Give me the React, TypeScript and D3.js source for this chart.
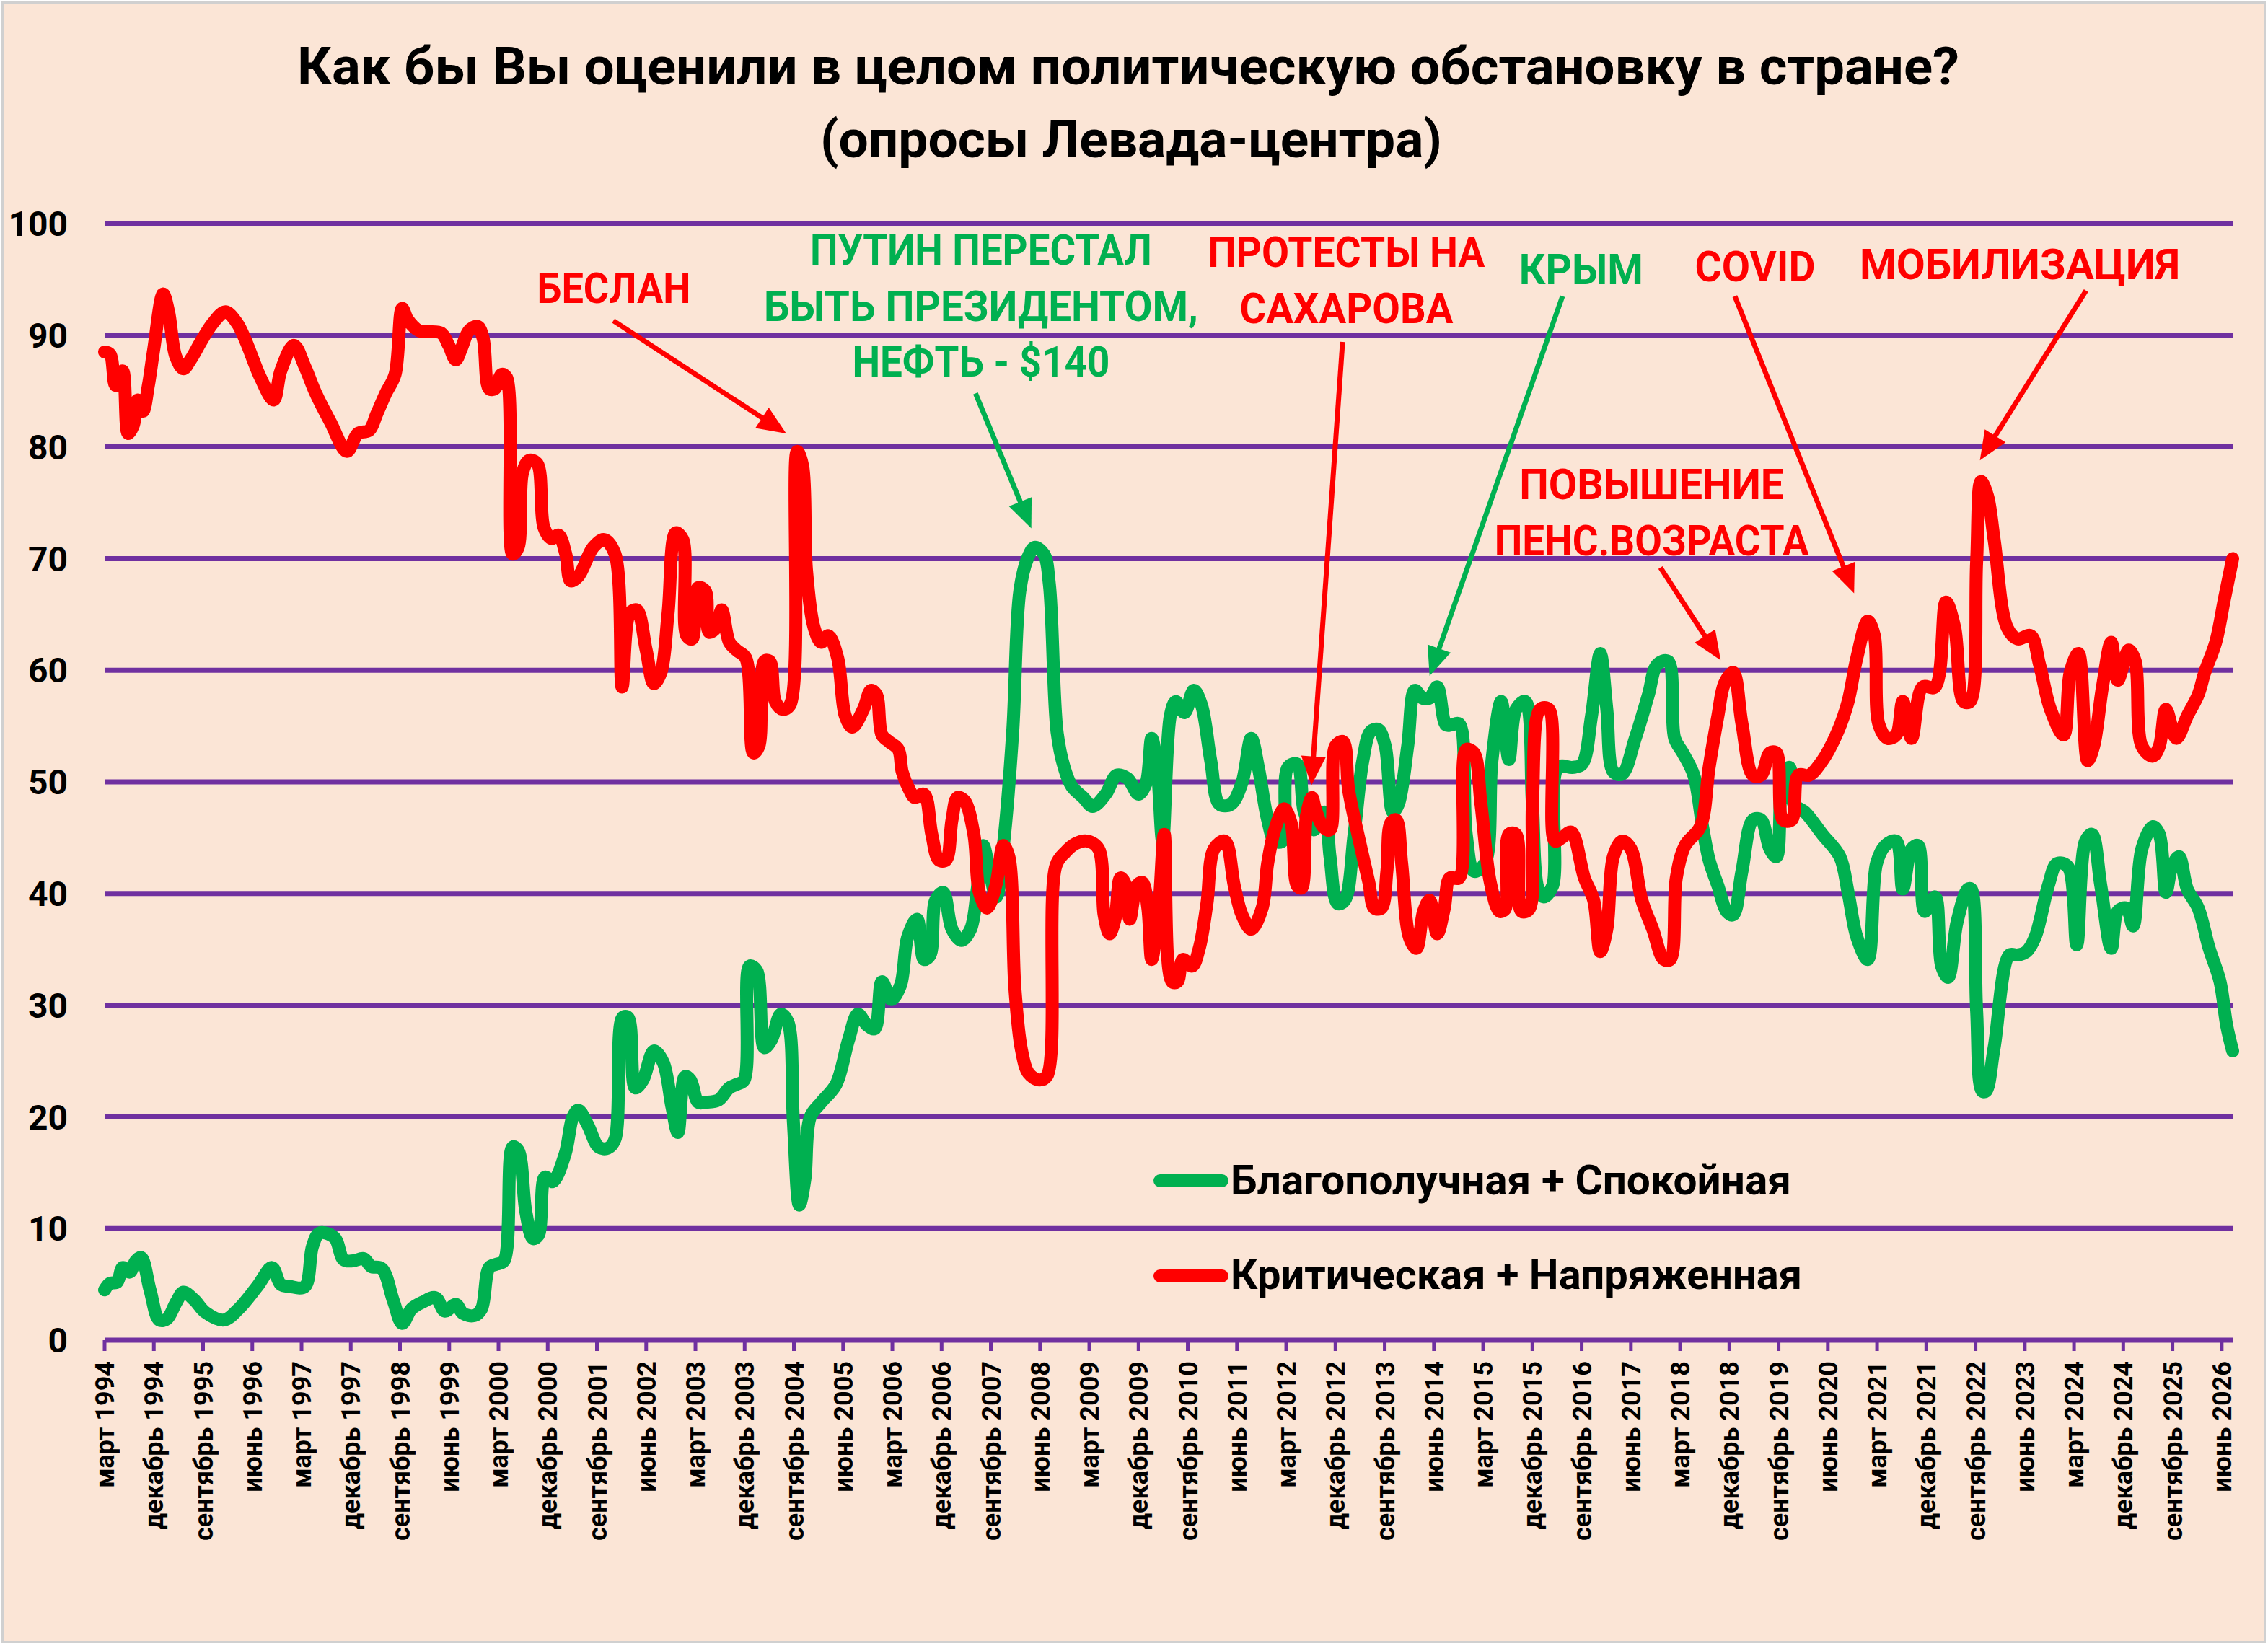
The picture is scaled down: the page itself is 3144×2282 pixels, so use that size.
import React from 'react';
import * as d3 from 'd3';

const W = 3144;
const H = 2282;

const titleLines = ['Как бы Вы оценили в целом политическую обстановку в стране?', '(опросы Левада-центра)'];

const tickLabels = [
  'март 1994', 'декабрь 1994', 'сентябрь 1995', 'июнь 1996', 'март 1997', 'декабрь 1997', 'сентябрь 1998', 'июнь 1999',
  'март 2000', 'декабрь 2000', 'сентябрь 2001', 'июнь 2002', 'март 2003', 'декабрь 2003', 'сентябрь 2004', 'июнь 2005',
  'март 2006', 'декабрь 2006', 'сентябрь 2007', 'июнь 2008', 'март 2009', 'декабрь 2009', 'сентябрь 2010', 'июнь 2011',
  'март 2012', 'декабрь 2012', 'сентябрь 2013', 'июнь 2014', 'март 2015', 'декабрь 2015', 'сентябрь 2016', 'июнь 2017',
  'март 2018', 'декабрь 2018', 'сентябрь 2019', 'июнь 2020', 'март 2021', 'декабрь 2021', 'сентябрь 2022', 'июнь 2023',
  'март 2024', 'декабрь 2024', 'сентябрь 2025', 'июнь 2026',
];
const tickStep = 9; // months between labels
const yTicks = [0, 10, 20, 30, 40, 50, 60, 70, 80, 90, 100];

const seriesNames = ['Благополучная + Спокойная', 'Критическая + Напряженная'];

// months since March 1994
const greenMonths = [
  0, 1, 2.3, 3.3, 4.6, 5.7, 6.7, 8.3, 10, 11.4, 13.1, 14.4, 16.4, 18.4, 21.8, 24.5, 27.9, 30.6, 32.2, 33.9,
  36.6, 38, 39.3, 42, 43.7, 45.4, 47.4, 48.7, 50.7, 52.8, 54.4, 56.1, 58.1, 60.5, 62.2, 64.2, 65.5, 67.6, 68.9, 70.3,
  71.6, 73, 74.6, 75.6, 77, 78.3, 79.3, 80.5, 81.9, 84.2, 85.6, 86.6, 88.3, 90.3, 92, 93.3, 94.7, 95.7, 97, 98.4,
  100.4, 102.1, 103.7, 104.8, 106.1, 107.1, 108.5, 109.8, 112.2, 114.2, 115.5, 116.9, 117.9, 119.2, 120.6, 121.9, 123.6, 124.9, 125.9, 127,
  128, 129, 131, 133.7, 136, 137.7, 139.4, 140.8, 142.1, 143.8, 145.5, 146.8, 148.5, 149.8, 150.9, 151.9, 153.3, 154.9, 156.6, 158.3,
  159.6, 160.6, 161.6, 163, 164.3, 166, 167.3, 168.7, 170, 171.7, 172.7, 174.1, 175.4, 176.8, 178.9, 180.6, 183, 185, 187, 189,
  190.4, 191.4, 192.4, 193.4, 194.8, 195.8, 197.4, 199.1, 200.5, 202.2, 203.8, 205.9, 207.9, 209.6, 210.9, 212.6, 213.9, 215.3, 216.3, 218,
  219.3, 221, 223, 224, 225.4, 226.7, 228.4, 230, 231.4, 232.8, 234.1, 235.5, 236.5, 238.2, 239.5, 240.9, 242.2, 243.6, 245.2, 246.2,
  247.6, 248.9, 250.3, 252.3, 253.6, 255.3, 256.7, 258, 259.7, 261, 262, 263.1, 264.7, 265.7, 268.4, 270.1, 271.8, 273.4, 274.6, 275.8,
  277.4, 279.8, 282.2, 283.8, 285.8, 287, 288.5, 290.5, 292.1, 293.3, 294.9, 296.5, 297.7, 299.3, 301.3, 302.8, 304.4, 305.6, 306.8, 308,
  308.8, 310.8, 314, 317.2, 318.7, 320.3, 322.3, 323.9, 325.5, 327.5, 328.7, 330.3, 331.5, 332.7, 334.6, 335.8, 337, 338.6, 340.6, 341.2,
  342.2, 343.2, 343.9, 345.4, 348.2, 349.7, 351.3, 352.9, 355.3, 356.9, 358.9, 360.5, 362.1, 363.3, 364.9, 366.8, 368, 369.6, 370.8, 372.4,
  374.4, 375.6, 376.8, 377.9, 379.2, 380.7, 382.7, 384.7, 386.7, 387.9, 389,
];
const greenValues = [
  4.5, 5.1, 5.2, 6.5, 6.1, 7.1, 7.4, 4.5, 1.8, 1.9, 3.4, 4.3, 3.6, 2.5, 1.8, 2.8, 4.8, 6.5, 5.0, 4.8,
  4.8, 8.4, 9.6, 9.2, 7.2, 7.1, 7.3, 6.6, 6.4, 3.5, 1.5, 2.8, 3.4, 3.8, 2.6, 3.2, 2.4, 2.2, 2.8, 6.5,
  6.8, 7.1, 17.3, 17, 11.5, 9.1, 9.4, 14.6, 14.2, 16.7, 20, 20.6, 19.3, 17.3, 17.2, 18, 28.9, 28.9, 22.6, 23.3,
  25.9, 24.9, 20.9, 18.6, 23.6, 23.3, 21.3, 21.3, 21.5, 22.6, 22.9, 23.3, 33.5, 33.1, 26.2, 26.9, 29.2, 28.5, 19.6, 12.1,
  14.4, 20, 21.3, 22.9, 26.9, 29.2, 28.2, 27.9, 32.1, 30.5, 31.8, 36.1, 37.7, 34.1, 34.5, 39.4, 40.1, 36.8, 35.8, 36.8,
  40.7, 44.3, 42.4, 39.7, 44.3, 54.5, 67.1, 70, 71, 70.4, 67.7, 54.5, 51.3, 49.6, 48.6, 47.8, 48.9, 50.6, 50.3, 48.9,
  49.9, 53.9, 51.3, 44.7, 55.9, 57.2, 56.2, 58.2, 56.9, 51.9, 48, 48, 49.9, 53.9, 51.3, 46.6, 44.7, 44.7, 51.3, 51.6,
  47.3, 45.7, 47.3, 43.3, 39.1, 39.4, 45.3, 51.9, 54.5, 54.7, 53.2, 47.3, 48, 53.2, 58.2, 57.5, 57.5, 58.5, 55.1, 55.1,
  55.2, 45.3, 42, 42.7, 51.9, 57.2, 52, 56.5, 57.2, 48, 40.5, 39.7, 40.7, 51.3, 51.3, 51.6, 55.9, 61.5, 56.5, 50.9,
  50.7, 53.9, 57.8, 60.5, 60.8, 53.9, 52.6, 50.6, 46, 43, 40.7, 38.4, 38.1, 42, 46.6, 46.6, 44, 43.3, 50.6, 51.3,
  48, 47.3, 45.3, 43.3, 40.1, 36.1, 34.1, 42.7, 44.3, 44.7, 40.4, 44, 44.3, 38.4, 39.7, 33.5, 32.5, 37.4, 40.4, 40.4,
  29.5, 22.3, 22.3, 26.2, 34.5, 34.5, 34.8, 36.1, 40.7, 42.7, 42.4, 35.4, 44.7, 45.3, 40.7, 35.1, 38.4, 38.7, 37.1, 44,
  46, 45.3, 40.1, 42.4, 43.3, 40.4, 38.7, 35.1, 32.1, 28.2, 25.9,
];

const redMonths = [
  0, 1, 2, 3.3, 4.3, 5.3, 6, 7, 8, 9, 10.7, 11.7, 13, 14.4, 15.7, 17.7, 19.8, 22.1, 24.2, 25.8,
  28.5, 30.9, 32.2, 34.6, 36.6, 38.6, 41.3, 44.3, 46.3, 48.4, 49.7, 51.4, 53.1, 54.4, 55.4, 57.5, 61.5, 62.9, 64.2, 65.2,
  66.6, 68.2, 69.2, 70.3, 71.3, 72.6, 73.5, 74.6, 75.6, 76.4, 77.6, 79.1, 80.3, 81.7, 83, 84.3, 85.2, 86.6, 89.3, 91.3,
  93.3, 94.6, 96, 97.3, 99, 100.4, 101.7, 103, 104.4, 105.7, 106.4, 107.4, 108.5, 109.8, 110.5, 111.8, 112.8, 114.2, 115.5, 117.2,
  118.6, 119.6, 120.6, 121.6, 122.6, 123.9, 125.3, 126.6, 127.6, 128.3, 129.7, 131, 132.3, 134, 135.4, 136.7, 138.7, 140.1, 141.1, 142.1,
  143.4, 145.1, 145.8, 147.1, 148.1, 149.8, 151.2, 152.5, 153.8, 154.9, 155.9, 157.2, 158.9, 159.9, 161.3, 162.9, 164.3, 165.3, 166.4, 167.6,
  168.9, 170.9, 172.3, 173.9, 175.6, 177.6, 179.6, 181.7, 182.7, 183.7, 184.7, 185.7, 186.7, 187.4, 188.7, 189.7, 190.7, 191.4, 192.7, 193.7,
  195.1, 196.1, 197.1, 198.8, 200.1, 201.5, 202.8, 204.8, 206.5, 207.9, 209.6, 211.6, 212.6, 213.9, 215.6, 216.9, 218, 218.8, 219.7, 220.7,
  221.3, 222.7, 224, 225, 226.4, 227.4, 229.1, 231.1, 232.1, 233.4, 234.4, 235.1, 236.1, 237.1, 238.5, 239.8, 241.1, 242.2, 243.6, 244.9,
  245.9, 247.6, 248.9, 250.3, 251.6, 253.3, 255, 256, 256.7, 258, 259, 260.4, 261, 262.4, 264, 265.1, 266.4, 268.1, 270.5, 272.2,
  273.4, 274.6, 275.8, 277.4, 279, 281, 283, 285, 286.2, 287.3, 288.9, 291.7, 293.3, 294.9, 296.1, 297.7, 299.3, 301.3, 302.8, 304.4,
  305.6, 306.8, 308.4, 309.6, 311.6, 314, 316.8, 318.7, 320.3, 322.3, 323.5, 324.3, 325.9, 327.5, 328.7, 330.3, 332.3, 334.6, 336.6, 338.2,
  339.8, 341, 342.2, 343, 344.2, 345.4, 347.8, 349.7, 352.1, 353.7, 355.7, 358.1, 359.3, 360.8, 362.5, 363.6, 365.2, 366.8, 368, 370,
  371.2, 372.4, 374.4, 375.6, 376.8, 378.7, 380.7, 382.7, 383.9, 385.9, 387.5, 389,
];
const redValues = [
  88.5, 88.3, 85.5, 86.8, 81.2, 82, 84.2, 83.2, 85.5, 88.8, 93.7, 92.1, 88.1, 87, 87.8, 89.5, 91.1, 92.1, 91.1, 89.5,
  86.2, 84.2, 86.8, 89.1, 87.2, 84.8, 82.2, 79.6, 81.2, 81.5, 82.9, 84.8, 86.5, 92.4, 91.4, 90.4, 90.2, 89.1, 87.8, 88.8,
  90.4, 90.8, 89.7, 85.2, 85.2, 86.5, 86.2, 70.4, 71, 77.7, 78.8, 78.5, 72.8, 71.8, 72.1, 70.4, 68, 68.4, 71, 71.7,
  70.4, 58.5, 65.1, 65.4, 61.8, 58.8, 59.8, 65.1, 72.3, 71.7, 63.1, 62.8, 67.4, 67.1, 63.4, 63.8, 65.4, 62.5, 61.8, 61.1,
  52.6, 53.2, 60.8, 60.8, 57.2, 56.5, 56.9, 79.6, 78.3, 69, 63.8, 62.5, 63.1, 61.1, 55.9, 54.9, 56.5, 58.2, 57.8, 54.2,
  53.6, 52.9, 50.9, 49.3, 48.6, 48.9, 45.3, 43, 43, 46.6, 48.6, 48.3, 45.3, 40.1, 38.7, 40.7, 44.3, 43.3, 31.5, 26,
  23.9, 23.3, 23.7, 42.5, 43.7, 44.5, 44.7, 44, 38.1, 36.4, 37.7, 41.4, 40.7, 37.7, 40.7, 41, 38.7, 34.1, 38.7, 45.3,
  32.1, 32.1, 34.1, 33.5, 35.1, 39.1, 44, 44.7, 40.7, 38.1, 36.8, 38.7, 42.7, 45.7, 47.6, 46.3, 40.7, 40.5, 47, 48.6,
  47.6, 46, 45.7, 53.2, 53.6, 49.3, 45.3, 41, 38.7, 38.7, 42, 46.3, 46.6, 42.7, 36.1, 35.1, 38.4, 39.4, 36.4, 38.7,
  41.4, 41.4, 52.9, 52.6, 48, 41, 38.4, 38.6, 45.3, 45.3, 38.4, 38.6, 48, 56.5, 56.5, 44.7, 45, 45.5, 41.4, 39.4,
  34.8, 36.8, 43.3, 44.7, 44, 39.4, 36.8, 34.1, 34.1, 41.4, 44.3, 46, 51.3, 55.9, 58.8, 59.8, 55.2, 50.6, 50.6, 52.6,
  52.6, 46.6, 46.6, 50.6, 50.6, 51.9, 54.5, 57.2, 61.1, 64.4, 63.1, 55.2, 53.9, 54.2, 57.2, 53.9, 58.5, 58.5, 66.1, 63.8,
  57.2, 57.2, 69.7, 76.9, 75.6, 71.7, 63.8, 62.8, 63.1, 60.5, 56.5, 54.2, 59.8, 61.5, 51.9, 53.2, 58.5, 62.5, 59.1, 61.8,
  60.8, 53.2, 52.3, 53.2, 56.5, 53.9, 55.9, 57.8, 59.8, 62.5, 66.4, 70,
];

// annotations: anchored in data coordinates (month, value)
const annotationTexts = [
  ['БЕСЛАН'],
  ['ПУТИН ПЕРЕСТАЛ', 'БЫТЬ ПРЕЗИДЕНТОМ,', 'НЕФТЬ - $140'],
  ['ПРОТЕСТЫ НА', 'САХАРОВА'],
  ['КРЫМ'],
  ['COVID'],
  ['МОБИЛИЗАЦИЯ'],
  ['ПОВЫШЕНИЕ', 'ПЕНС.ВОЗРАСТА'],
];
const annotationIsGreen = [false, true, false, true, false, false, false];
const annotationAnchor = [
  [93.1, 92.9], [160.2, 96.3], [227, 96.1], [269.9, 94.6], [301.7, 94.8], [350.1, 95.0], [282.8, 75.3],
];
const annotationWidths = [[213], [474, 602, 357], [384, 296], [172], [167], [444], [367, 436]];
const arrowFrom = [
  [93, 91.3], [159.2, 84.8], [226.3, 89.4], [266.5, 93.5], [298, 93.5], [362.2, 94.0], [284.4, 69.2],
];
const arrowTo = [
  [124.6, 81.2], [169.4, 72.7], [220.6, 49.7], [242.2, 59.5], [319.8, 66.9], [342.8, 78.8], [295.4, 60.9],
];

const BG = '#FBE5D6';
const PURPLE = '#7030A0';
const GREEN = '#00B050';
const RED = '#FF0000';
const FONT = "Roboto, 'Noto Sans', 'DejaVu Sans', sans-serif";

export default function App() {
  const x = d3.scaleLinear().domain([0, 389]).range([145, 3095]);
  const y = d3.scaleLinear().domain([0, 100]).range([1858, 310]);

  const line = d3
    .line<[number, number]>()
    .x((d) => x(d[0]))
    .y((d) => y(d[1]))
    .curve(d3.curveCatmullRom.alpha(0.5));

  const greenData = greenMonths.map((m, i) => [m, greenValues[i]] as [number, number]);
  const redData = redMonths.map((m, i) => [m, redValues[i]] as [number, number]);

  const arrow = (i: number) => {
    const x1 = x(arrowFrom[i][0]);
    const y1 = y(arrowFrom[i][1]);
    const x2 = x(arrowTo[i][0]);
    const y2 = y(arrowTo[i][1]);
    const color = annotationIsGreen[i] ? GREEN : RED;
    const len = Math.hypot(x2 - x1, y2 - y1);
    const ux = (x2 - x1) / len;
    const uy = (y2 - y1) / len;
    const hl = 40;
    const hw = 17;
    const bx = x2 - ux * hl;
    const by = y2 - uy * hl;
    const pts = [
      [x2, y2],
      [bx - uy * hw, by + ux * hw],
      [bx + uy * hw, by - ux * hw],
    ];
    return (
      <g key={'arrow' + i}>
        <line x1={x1} y1={y1} x2={bx + ux * 4} y2={by + uy * 4} stroke={color} strokeWidth={7} />
        <polygon points={pts.map((p) => p.join(',')).join(' ')} fill={color} />
      </g>
    );
  };

  const tickMonths = tickLabels.map((_, i) => i * tickStep);

  return (
    <svg
      width={W}
      height={H}
      viewBox={`0 0 ${W} ${H}`}
      style={{ position: 'absolute', left: 0, top: 0, display: 'block' }}
    >
      <rect x={0} y={0} width={W} height={H} fill="#ffffff" />
      <rect x={3.5} y={3.5} width={W - 8} height={H - 9} fill={BG} stroke="#D0D0D0" strokeWidth={3} />

      {/* title */}
      <text x={1564} y={117} textAnchor="middle" fontFamily={FONT} fontWeight={700} fontSize={72}
        textLength={2304} lengthAdjust="spacingAndGlyphs" fill="#000">
        {titleLines[0]}
      </text>
      <text x={1568} y={218} textAnchor="middle" fontFamily={FONT} fontWeight={700} fontSize={72}
        textLength={862} lengthAdjust="spacingAndGlyphs" fill="#000">
        {titleLines[1]}
      </text>

      {/* gridlines */}
      {yTicks.map((t) => (
        <line key={'g' + t} x1={x.range()[0]} x2={x.range()[1]} y1={y(t)} y2={y(t)} stroke={PURPLE} strokeWidth={7} />
      ))}
      {/* y labels */}
      {yTicks.map((t) => (
        <text key={'yl' + t} x={94} y={y(t)} dy="0.36em" textAnchor="end" fontFamily={FONT} fontWeight={700}
          fontSize={48} fill="#000">
          {t}
        </text>
      ))}
      {/* x ticks */}
      {tickMonths.map((m) => (
        <line key={'t' + m} x1={x(m)} x2={x(m)} y1={y(0)} y2={y(0) + 15} stroke={PURPLE} strokeWidth={5} />
      ))}
      {tickLabels.map((lab, i) => (
        <text key={'xl' + i} transform={`translate(${x(tickMonths[i]) + 13},1887) rotate(-90)`} textAnchor="end"
          fontFamily={FONT} fontWeight={700} fontSize={36} fill="#000">
          {lab}
        </text>
      ))}

      {/* series */}
      <path d={line(greenData) || ''} fill="none" stroke={GREEN} strokeWidth={18} strokeLinejoin="round" strokeLinecap="round" />
      <path d={line(redData) || ''} fill="none" stroke={RED} strokeWidth={18} strokeLinejoin="round" strokeLinecap="round" />

      {/* annotations */}
      {annotationTexts.map((lines, i) => (
        <g key={'ann' + i}>
          {lines.map((txt, j) => (
            <text key={j} x={x(annotationAnchor[i][0])} y={y(annotationAnchor[i][1]) + j * 77.5} textAnchor="middle"
              fontFamily={FONT} fontWeight={700} fontSize={60} fill={annotationIsGreen[i] ? GREEN : RED}
              textLength={annotationWidths[i][j]} lengthAdjust="spacingAndGlyphs">
              {txt}
            </text>
          ))}
        </g>
      ))}
      {annotationTexts.map((_, i) => arrow(i))}

      {/* legend */}
      {seriesNames.map((name, i) => (
        <g key={'leg' + i}>
          <line x1={1608} x2={1694} y1={1637 + i * 132} y2={1637 + i * 132} stroke={i === 0 ? GREEN : RED}
            strokeWidth={18} strokeLinecap="round" />
          <text x={1706} y={1656 + i * 131} fontFamily={FONT} fontWeight={700} fontSize={57} fill="#000"
            textLength={i === 0 ? 777 : 792} lengthAdjust="spacingAndGlyphs">
            {name}
          </text>
        </g>
      ))}
    </svg>
  );
}
